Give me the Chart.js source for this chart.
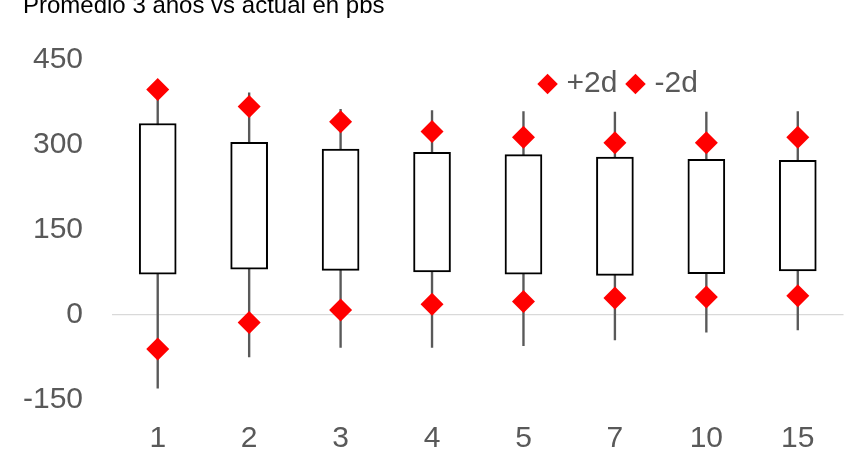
<!DOCTYPE html>
<html>
<head>
<meta charset="utf-8">
<script src="https://cdn.jsdelivr.net/npm/chart.js@4"></script>
<style>
  body { margin: 0; background: #fff; }
  #wrap { width: 855px; height: 453px; }
</style>
</head>
<body>
<div id="wrap"><canvas id="plazoChart"></canvas></div>
<script>
// Plazos (años)
const plazos = ['1', '2', '3', '4', '5', '7', '10', '15'];
// Rango max-min (linea vertical)
const maximo = [405, 391, 362, 360, 358, 357, 357, 358];
const minimo = [-130, -75, -58, -58, -55, -45, -31, -27];
// Caja: promedio 3 años vs actual
const cajaAlta = [337, 304, 292, 286, 282, 278, 274, 272];
const cajaBaja = [71, 80, 78, 75, 71, 69, 72, 77];
// Bandas de desviacion
const mas2d = [397, 367, 340, 323, 313, 303, 303, 313];
const menos2d = [-61, -14, 8, 18, 23, 29, 31, 33];
const yTicks = [-150, 0, 150, 300, 450];

const fuente = 'Liberation Sans, Arial, sans-serif';

// mueve la leyenda dentro del area, como en el original
const legendShift = {
    id: 'legendShift',
    beforeDraw(chart) {
        const area = chart.chartArea;
        const lg = chart.legend;
        const pad = lg.options.labels.padding;
        const w = lg.right - lg.left;
        const h = lg.bottom - lg.top;
        lg.left = area.left + (area.right - area.left) * 0.59 - pad;
        lg.right = lg.left + w;
        lg.top = area.top + 24.5 - 15 - pad;
        lg.bottom = lg.top + h;
    }
};

const ctx = document.getElementById('plazoChart').getContext('2d');
new Chart(ctx, {
    type: 'bar',
    data: {
        labels: plazos,
        datasets: [
            {
                label: '+2d',
                type: 'line',
                data: mas2d,
                showLine: false,
                pointStyle: 'rectRot',
                pointRadius: 11.5,
                pointBackgroundColor: '#ff0000',
                backgroundColor: '#ff0000',
                borderColor: '#ff0000',
                pointBorderWidth: 0,
                order: 0
            },
            {
                label: '-2d',
                type: 'line',
                data: menos2d,
                showLine: false,
                pointStyle: 'rectRot',
                pointRadius: 11.5,
                pointBackgroundColor: '#ff0000',
                backgroundColor: '#ff0000',
                borderColor: '#ff0000',
                pointBorderWidth: 0,
                order: 0
            },
            {
                label: 'caja',
                data: cajaBaja.map((v, i) => [v, cajaAlta[i]]),
                backgroundColor: '#ffffff',
                borderColor: '#000000',
                borderWidth: 2,
                borderSkipped: false,
                barThickness: 37,
                grouped: false,
                order: 1
            },
            {
                label: 'rango',
                data: minimo.map((v, i) => [v, maximo[i]]),
                backgroundColor: '#595959',
                borderWidth: 0,
                barThickness: 1.7,
                grouped: false,
                order: 2
            }
        ]
    },
    options: {
        responsive: true,
        maintainAspectRatio: false,
        animation: false,
        layout: { padding: { left: 23, right: 4, top: 0, bottom: 1 } },
        plugins: {
            title: {
                display: true,
                text: 'Promedio 3 años vs actual en pbs',
                align: 'start',
                color: '#000000',
                font: { family: fuente, size: 24, weight: 'normal', lineHeight: 0.5 },
                padding: { top: 0, bottom: 7.5 }
            },
            legend: {
                position: 'top',
                align: 'start',
                maxHeight: 40,
                labels: {
                    usePointStyle: true,
                    boxWidth: 8,
                    boxHeight: 14.5,
                    padding: 14,
                    color: '#595959',
                    font: { family: fuente, size: 30, lineHeight: 1 },
                    filter: item => item.text === '+2d' || item.text === '-2d'
                }
            },
            tooltip: { enabled: false }
        },
        scales: {
            x: {
                grid: { display: false, drawTicks: false },
                border: { display: false },
                afterFit: axis => { axis.height = 52.5; },
                ticks: {
                    color: '#595959',
                    padding: 24.5,
                    font: { family: fuente, size: 30, lineHeight: 1 }
                }
            },
            y: {
                min: yTicks[0],
                max: yTicks[yTicks.length - 1],
                afterBuildTicks: axis => { axis.ticks = yTicks.map(v => ({ value: v })); },
                afterFit: axis => { axis.width = 89; },
                grid: {
                    drawTicks: false,
                    lineWidth: 1.3,
                    color: c => c.tick && c.tick.value === 0 ? '#d9d9d9' : 'rgba(0,0,0,0)'
                },
                border: { display: false },
                ticks: {
                    color: '#595959',
                    padding: 29,
                    font: { family: fuente, size: 30 }
                }
            }
        }
    },
    plugins: [legendShift]
});
</script>
</body>
</html>
